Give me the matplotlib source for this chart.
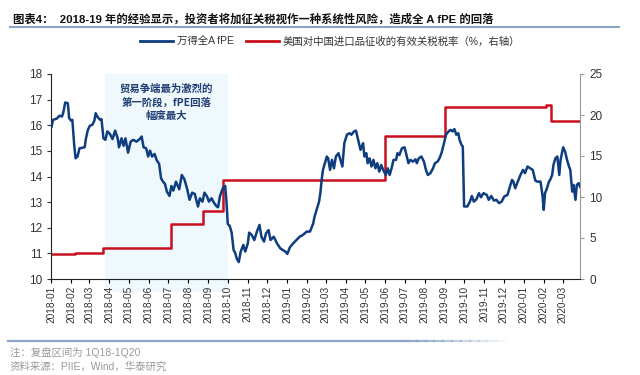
import numpy as np
import pandas as pd
import matplotlib
matplotlib.use("Agg")
from matplotlib import pyplot as plt
import matplotlib.dates as mdates
from matplotlib.patches import Rectangle
from matplotlib.lines import Line2D

plt.rcParams['font.family'] = ['Liberation Sans', 'Noto Sans CJK SC', 'DejaVu Sans']

# wind all-A forward PE (left axis)
pe_dates = [
    '2018-01-02', '2018-01-04', '2018-01-10', '2018-01-14', '2018-01-18', '2018-01-20',
    '2018-01-23', '2018-01-27', '2018-01-29', '2018-02-01', '2018-02-03', '2018-02-06',
    '2018-02-08', '2018-02-11', '2018-02-14', '2018-02-22', '2018-02-24', '2018-02-27',
    '2018-03-02', '2018-03-06', '2018-03-09', '2018-03-11', '2018-03-14', '2018-03-18',
    '2018-03-20', '2018-03-23', '2018-03-26', '2018-03-29', '2018-04-02', '2018-04-06',
    '2018-04-10', '2018-04-14', '2018-04-16', '2018-04-20', '2018-04-23', '2018-04-26',
    '2018-04-30', '2018-05-04', '2018-05-08', '2018-05-13', '2018-05-18', '2018-05-21',
    '2018-05-24', '2018-05-28', '2018-05-31', '2018-06-03', '2018-06-06', '2018-06-10',
    '2018-06-13', '2018-06-17', '2018-06-20', '2018-06-23', '2018-06-26', '2018-06-29',
    '2018-07-03', '2018-07-06', '2018-07-09', '2018-07-13', '2018-07-18', '2018-07-22',
    '2018-07-26', '2018-07-30', '2018-08-03', '2018-08-07', '2018-08-11', '2018-08-16',
    '2018-08-19', '2018-08-23', '2018-08-26', '2018-08-30', '2018-09-02', '2018-09-06',
    '2018-09-10', '2018-09-14', '2018-09-16', '2018-09-19', '2018-09-22', '2018-09-24',
    '2018-09-27', '2018-09-29', '2018-10-01', '2018-10-04', '2018-10-07', '2018-10-10',
    '2018-10-12', '2018-10-15', '2018-10-18', '2018-10-21', '2018-10-25', '2018-10-28',
    '2018-11-01', '2018-11-03', '2018-11-07', '2018-11-11', '2018-11-15', '2018-11-19',
    '2018-11-22', '2018-11-26', '2018-11-29', '2018-12-03', '2018-12-06', '2018-12-11',
    '2018-12-16', '2018-12-21', '2018-12-25', '2018-12-29', '2019-01-01', '2019-01-05',
    '2019-01-10', '2019-01-15', '2019-01-20', '2019-01-25', '2019-01-31', '2019-02-05',
    '2019-02-10', '2019-02-12', '2019-02-16', '2019-02-19', '2019-02-21', '2019-02-23',
    '2019-02-25', '2019-02-28', '2019-03-03', '2019-03-05', '2019-03-08', '2019-03-11',
    '2019-03-14', '2019-03-17', '2019-03-21', '2019-03-24', '2019-03-27', '2019-03-30',
    '2019-04-03', '2019-04-07', '2019-04-10', '2019-04-14', '2019-04-17', '2019-04-21',
    '2019-04-24', '2019-04-28', '2019-04-30', '2019-05-03', '2019-05-05', '2019-05-08',
    '2019-05-11', '2019-05-14', '2019-05-17', '2019-05-20', '2019-05-23', '2019-05-26',
    '2019-05-29', '2019-06-02', '2019-06-05', '2019-06-08', '2019-06-11', '2019-06-14',
    '2019-06-18', '2019-06-20', '2019-06-23', '2019-06-27', '2019-07-01', '2019-07-04',
    '2019-07-07', '2019-07-10', '2019-07-14', '2019-07-18', '2019-07-20', '2019-07-23',
    '2019-07-27', '2019-07-31', '2019-08-03', '2019-08-06', '2019-08-10', '2019-08-14',
    '2019-08-17', '2019-08-21', '2019-08-24', '2019-08-27', '2019-08-31', '2019-09-03',
    '2019-09-07', '2019-09-10', '2019-09-13', '2019-09-16', '2019-09-19', '2019-09-22',
    '2019-09-24', '2019-09-27', '2019-09-29', '2019-10-01', '2019-10-06', '2019-10-10',
    '2019-10-13', '2019-10-16', '2019-10-20', '2019-10-24', '2019-10-27', '2019-10-31',
    '2019-11-05', '2019-11-08', '2019-11-12', '2019-11-16', '2019-11-20', '2019-11-24',
    '2019-11-28', '2019-12-02', '2019-12-07', '2019-12-10', '2019-12-14', '2019-12-16',
    '2019-12-19', '2019-12-22', '2019-12-27', '2019-12-31', '2020-01-03', '2020-01-07',
    '2020-01-11', '2020-01-15', '2020-01-19', '2020-01-22', '2020-01-27', '2020-01-30',
    '2020-02-01', '2020-02-03', '2020-02-06', '2020-02-09', '2020-02-11', '2020-02-14',
    '2020-02-16', '2020-02-19', '2020-02-22', '2020-02-25', '2020-02-27', '2020-03-02',
    '2020-03-05', '2020-03-08', '2020-03-11', '2020-03-13', '2020-03-16', '2020-03-18',
    '2020-03-21', '2020-03-23', '2020-03-26', '2020-03-28',
]
pe_vals = [
    15.95, 16.21, 16.26, 16.37, 16.34, 16.50,
    16.89, 16.86, 16.28, 16.18, 16.21, 15.17,
    14.71, 14.78, 15.10, 15.14, 15.49, 15.82,
    15.98, 16.02, 16.18, 16.47, 16.32, 16.21,
    16.24, 15.49, 15.43, 15.76, 15.66, 15.46,
    15.79, 15.49, 15.14, 15.49, 15.20, 15.49,
    14.93, 15.36, 15.43, 15.36, 15.46, 15.56,
    15.14, 15.10, 14.78, 15.01, 14.78, 14.88,
    14.65, 14.49, 13.93, 13.80, 13.71, 13.41,
    13.24, 13.63, 13.45, 13.80, 13.50, 14.06,
    13.89, 13.54, 13.09, 13.37, 13.32, 12.83,
    13.15, 13.02, 13.37, 13.22, 13.02, 13.15,
    12.96, 12.83, 12.80, 13.24, 13.45, 13.57,
    13.63, 13.02, 12.15, 12.07, 11.81, 11.13,
    11.05, 10.79, 10.66, 11.07, 11.33, 11.07,
    11.39, 11.81, 11.72, 11.52, 11.85, 12.11,
    11.65, 11.46, 11.78, 11.91, 11.52, 11.65,
    11.39, 11.20, 11.13, 11.07, 10.98, 11.24,
    11.39, 11.52, 11.65, 11.72, 11.85, 11.85,
    12.17, 12.43, 12.76, 13.02, 13.35, 13.87,
    14.26, 14.52, 14.78, 14.71, 14.26, 14.65,
    14.32, 14.78, 14.91, 14.65, 14.39, 15.30,
    15.63, 15.69, 15.63, 15.76, 15.79, 15.36,
    15.04, 15.30, 14.78, 14.91, 14.52, 14.71,
    14.39, 14.65, 14.32, 14.52, 14.19, 14.45,
    14.26, 14.06, 14.32, 14.06, 14.32, 14.65,
    14.65, 14.91, 14.84, 15.10, 15.14, 14.84,
    14.52, 14.65, 14.58, 14.67, 14.52, 14.71,
    14.78, 14.58, 14.26, 14.06, 14.13, 14.32,
    14.52, 14.58, 14.71, 14.91, 15.30, 15.63,
    15.76, 15.82, 15.76, 15.85, 15.63, 15.69,
    15.43, 15.23, 15.17, 12.83, 12.83, 13.02,
    13.24, 13.02, 13.11, 13.35, 13.19, 13.35,
    13.28, 13.09, 13.24, 13.06, 13.09, 12.96,
    13.02, 13.22, 13.28, 13.54, 13.87, 13.80,
    13.54, 13.74, 14.06, 14.26, 14.13, 14.39,
    14.32, 14.26, 13.84, 13.80, 13.80, 13.28,
    12.70, 13.35, 13.54, 13.80, 13.87, 14.06,
    14.45, 14.71, 14.78, 14.06, 14.65, 15.14,
    14.97, 14.65, 14.39, 14.26, 13.41, 13.67,
    13.09, 13.67, 13.74, 13.60,
]

# effective US tariff rate on Chinese imports (%, right axis)
tariff_dates = ['2018-01-02', '2018-02-07', '2018-03-23', '2018-07-06', '2018-08-23',
                '2018-09-24', '2019-06-01', '2019-09-01', '2020-02-05', '2020-02-12',
                '2020-03-28']
tariff_vals = [3.1, 3.2, 3.8, 6.7, 8.3, 12.1, 17.4, 21.0, 21.2, 19.3, 19.3]

shade_start, shade_end = '2018-03-25', '2018-10-01'
month_ticks = pd.date_range('2018-01-01', '2020-03-01', freq='MS')

blue = '#0E3D80'
red = '#C8101E'
grey_txt = '#333333'
rule = '#8AA3C6'

fig = plt.figure(figsize=(6.4, 3.75), dpi=100)
ax = fig.add_axes([51/640, 1 - 279/375, (580 - 51)/640, (279 - 74)/375])
ax2 = ax.twinx()

pe_x = pd.to_datetime(pe_dates)
tr_x = pd.to_datetime(tariff_dates)

# shaded phase, a little below the axis as in the original (on the lower axes)
x0 = mdates.date2num(pd.Timestamp(shade_start))
x1 = mdates.date2num(pd.Timestamp(shade_end))
band = Rectangle((x0, -0.065), x1 - x0, 1.065, transform=ax2.get_xaxis_transform(),
                 facecolor='#EEF8FD', edgecolor='none', clip_on=False, zorder=0)
ax2.add_patch(band)

ax.plot(pe_x, pe_vals, color=blue, lw=1.8, zorder=3)
ax2.plot(tr_x, tariff_vals, color=red, lw=1.8, drawstyle='steps-post', zorder=2)

ax.set_zorder(ax2.get_zorder() + 1)
ax.patch.set_visible(False)

ax.set_ylim(10, 18)
ax.set_yticks(range(10, 19))
ax2.set_ylim(0, 25)
ax2.set_yticks(range(0, 26, 5))
ax.set_xlim(pd.Timestamp('2018-01-01'), pd.Timestamp('2020-03-28'))
ax.set_xticks(month_ticks)
ax.set_xticklabels([d.strftime('%Y-%m') for d in month_ticks], rotation=90, fontsize=7.3,
                   color=grey_txt)
ax.tick_params(axis='y', labelsize=8.5, colors=grey_txt, length=3, width=0.8)
ax.tick_params(axis='x', length=3, width=0.8, pad=2)
ax2.tick_params(axis='y', labelsize=8.5, colors=grey_txt, length=3, width=0.8, color='#999999')

for a in (ax, ax2):
    a.spines['top'].set_visible(False)
ax.spines['right'].set_visible(False)
ax.spines['left'].set_color('#222222')
ax.spines['bottom'].set_color('#222222')
ax2.spines['left'].set_visible(False)
ax2.spines['bottom'].set_visible(False)
ax2.spines['right'].set_color('#999999')

ax.text(mdates.date2num(pd.Timestamp('2018-06-28')), 16.9,
        '贸易争端最为激烈的\n第一阶段，fPE回落\n幅度最大', ha='center', va='center',
        fontsize=7.5, color='#1F3D73', fontweight='bold', linespacing=1.45,
        family=['Noto Sans CJK SC', 'DejaVu Sans'])

# title and rules
fig.text(13/640, 1 - 19/375, '图表4：  2018-19 年的经验显示，投资者将加征关税视作一种系统性风险，造成全 A fPE 的回落',
         fontsize=8.2, fontweight='bold', va='center', ha='left', color='#111111')
fig.add_artist(Line2D([10/640, 619/640], [1 - 27/375] * 2, color=rule, lw=1.5))

handles = [Line2D([], [], color=blue, lw=2), Line2D([], [], color=red, lw=2)]
fig.legend(handles, ['万得全A fPE', '美国对中国进口品征收的有效关税税率（%，右轴）'],
           loc='center', bbox_to_anchor=(330/640, 1 - 42/375), ncol=2, frameon=False,
           fontsize=7.5, handlelength=3.2, columnspacing=1.2, handletextpad=0.3,
           labelcolor='#333333')

# footer rule, fading out on the right
fig.add_artist(Line2D([8/640, 408/640], [1 - 341/375] * 2, color=rule, lw=1.6))
fade = np.linspace(408, 505, 12)
for i in range(len(fade) - 1):
    fig.add_artist(Line2D([fade[i]/640, fade[i+1]/640], [1 - 341/375] * 2, color=rule,
                          lw=1.6, alpha=1 - (i + 1)/len(fade)))

fig.text(10/640, 1 - 352/375, '注：复盘区间为 1Q18-1Q20', fontsize=7.5, color='#9A9A9A', va='center')
fig.text(10/640, 1 - 367/375, '资料来源：PIIE，Wind，华泰研究', fontsize=7.5, color='#9A9A9A', va='center')

fig.savefig('out.png', dpi=100)
